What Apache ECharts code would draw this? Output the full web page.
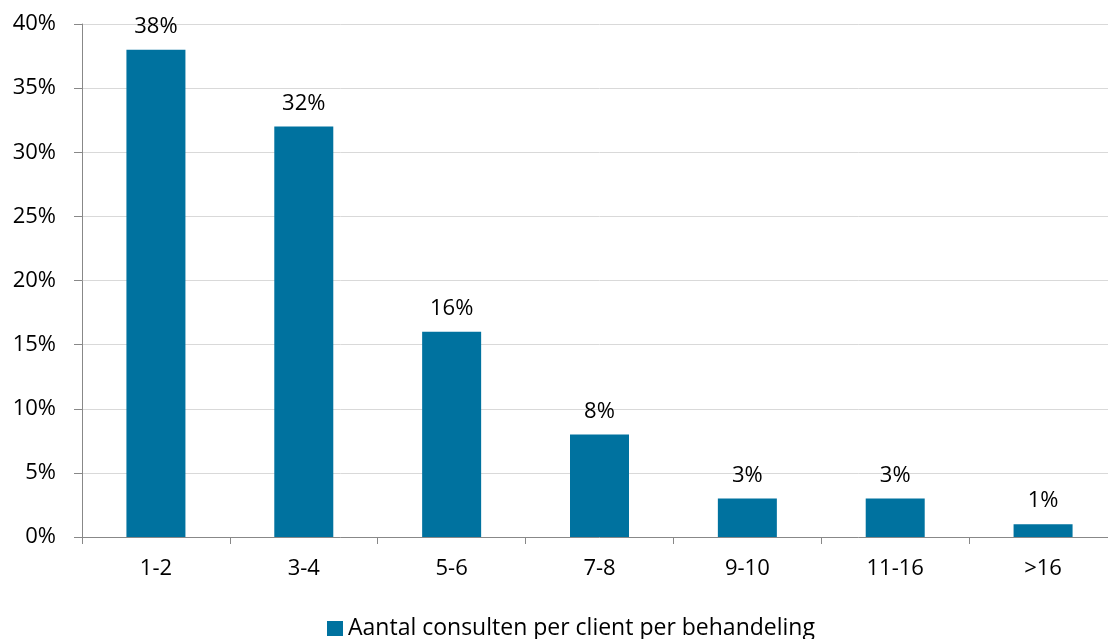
<!DOCTYPE html>
<html><head><meta charset="utf-8">
<script src="https://cdn.jsdelivr.net/npm/echarts@6/dist/echarts.min.js"></script>
<style>html,body{margin:0;padding:0;background:#fff;overflow:hidden;width:1108px;height:639px}#c{width:1117px;height:639px}</style>
</head><body><div id="c"></div>
<script>
const categories = ['1-2','3-4','5-6','7-8','9-10','11-16','>16'];
const values = [38, 32, 16, 8, 3, 3, 1];
const seriesName = 'Aantal consulten per client per behandeling';
const yTicks = [0, 5, 10, 15, 20, 25, 30, 35, 40];

const FONT = 'Open Sans';
const chart = echarts.init(document.getElementById('c'), null, {renderer: 'canvas', width: 1117, height: 639});
chart.setOption({
  animation: false,
  textStyle: {fontFamily: FONT},
  grid: {left: 82, top: 24, right: 0, bottom: 102, containLabel: false},
  legend: {
    data: [seriesName], top: 612, left: 322,
    icon: 'rect', itemWidth: 16, itemHeight: 15, itemGap: 6,
    textStyle: {fontFamily: FONT, fontSize: 23, color: '#000'}
  },
  xAxis: {
    type: 'category', data: categories,
    axisLine: {lineStyle: {color: '#888', width: 1}},
    axisTick: {show: true, length: 7, alignWithLabel: false, lineStyle: {color: '#888'}},
    axisLabel: {color: '#000', fontSize: 22, fontFamily: FONT, margin: 21}
  },
  yAxis: {
    type: 'value', min: yTicks[0], max: yTicks[yTicks.length - 1], interval: 5,
    axisLine: {show: true, lineStyle: {color: '#888', width: 1}},
    axisTick: {show: true, length: 8, lineStyle: {color: '#888'}},
    splitLine: {lineStyle: {color: '#d9d9d9', width: 1}},
    axisLabel: {color: '#000', fontSize: 22, fontFamily: FONT, margin: 26, formatter: v => v + '%'}
  },
  series: [{
    name: seriesName, type: 'bar', data: values, barWidth: 59,
    itemStyle: {color: '#00729f'},
    label: {show: true, position: 'top', distance: 12, color: '#000', fontSize: 22, fontFamily: FONT, formatter: p => p.value + '%'}
  }]
});
</script></body></html>
